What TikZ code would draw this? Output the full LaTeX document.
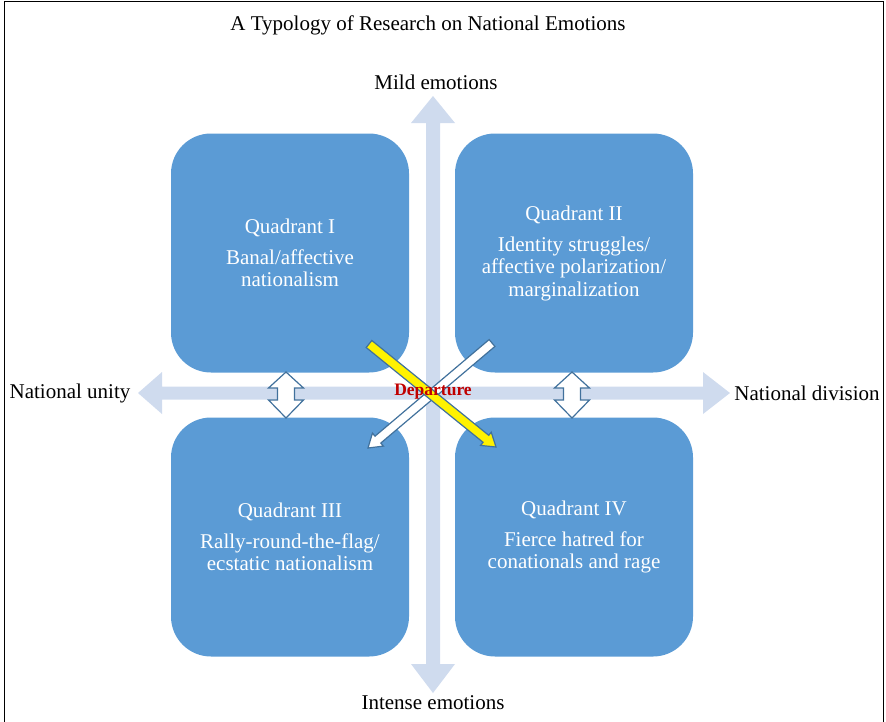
\documentclass[tikz,border=0pt]{standalone}
\usepackage{fontspec}
\setmainfont{Liberation Serif}
\usetikzlibrary{calc}
\definecolor{boxblue}{RGB}{91,155,213}
\definecolor{axisblue}{RGB}{207,219,238}
\definecolor{edgeblue}{RGB}{65,113,156}
\definecolor{depred}{RGB}{192,0,0}
\tikzset{
  quad/.style={fill=boxblue, draw=none, rounded corners=40pt, minimum width=238pt, minimum height=239pt,
    text=white, align=center, font=\fontsize{21}{22.5}\selectfont},
  lbl/.style={font=\fontsize{21}{22}\selectfont, inner sep=0pt},
  axisshape/.style={fill=axisblue, draw=none},
  arrowshape/.style={draw=edgeblue, line width=1.2pt, line join=miter},
}
\newcommand{\qsep}{\\[8.5pt]}
\begin{document}
\begin{tikzpicture}[x=1pt,y=-1pt]
\useasboundingbox (0,0) rectangle (886,721);
% frame
\draw[black, line width=0.9pt] (4,725) -- (4,1.5) -- (883,1.5) -- (883,725);
% title
\node[lbl] (title) at (428,25) {A Typology of Research on National Emotions};
% axes
\fill[axisshape] (433,96) -- (455,123) -- (440,123) -- (440,664) -- (455,664) -- (433,693)
  -- (411,664) -- (426,664) -- (426,123) -- (411,123) -- cycle;
\fill[axisshape] (138,393) -- (162,372) -- (162,386.5) -- (703,386.5) -- (703,372) -- (730,393)
  -- (703,414) -- (703,399.5) -- (162,399.5) -- (162,414) -- cycle;
% axis labels
\node[lbl] (mild) at (436,82) {Mild emotions};
\node[lbl] (intense) at (433,703) {Intense emotions};
\node[lbl] (unity) at (70,393) {National unity};
\node[lbl] (division) at (807,393) {National division};
% quadrants
\node[quad] (q1) at (290,253) {Quadrant I\qsep Banal/affective\\ nationalism};
\node[quad] (q2) at (574,253) {Quadrant II\qsep Identity struggles/\\ affective polarization/\\ marginalization};
\node[quad] (q3) at (290,537) {Quadrant III\qsep Rally-round-the-flag/\\ ecstatic nationalism};
\node[quad] (q4) at (574,537) {Quadrant IV\qsep Fierce hatred for\\ conationals and rage};
% up-down double arrows
\foreach \cx/\nm in {286/dl, 572/dr}{
  \draw[arrowshape, fill=white] (\cx,372) -- (\cx+17.5,388) -- (\cx+8.5,388) -- (\cx+8.5,400) -- (\cx+17.5,400)
    -- (\cx,418) -- (\cx-17.5,400) -- (\cx-8.5,400) -- (\cx-8.5,388) -- (\cx-17.5,388) -- cycle;
}
% diagonal arrows
\coordinate (wa) at (492,343);
\coordinate (wb) at (368,448);
\coordinate (wh) at ($(wb)!13pt!(wa)$);
\coordinate (ya) at (369,344);
\coordinate (yb) at (496,447);
\coordinate (yh) at ($(yb)!13pt!(ya)$);
\draw[arrowshape, fill=white] ($(wa)!4.5pt!90:(wb)$) -- ($(wh)!4.5pt!-90:(wa)$) -- ($(wh)!8.5pt!-90:(wa)$) -- (wb)
  -- ($(wh)!8.5pt!90:(wa)$) -- ($(wh)!4.5pt!90:(wa)$) -- ($(wa)!4.5pt!-90:(wb)$) -- cycle;
\draw[arrowshape, fill=yellow] ($(ya)!4.5pt!90:(yb)$) -- ($(yh)!4.5pt!-90:(ya)$) -- ($(yh)!8.5pt!-90:(ya)$) -- (yb)
  -- ($(yh)!8.5pt!90:(ya)$) -- ($(yh)!4.5pt!90:(ya)$) -- ($(ya)!4.5pt!-90:(yb)$) -- cycle;
% departure label
\node[font=\fontsize{17.5}{18}\selectfont\bfseries, text=depred, inner sep=0pt] (dep) at (433,392) {Departure};
\end{tikzpicture}
\end{document}
